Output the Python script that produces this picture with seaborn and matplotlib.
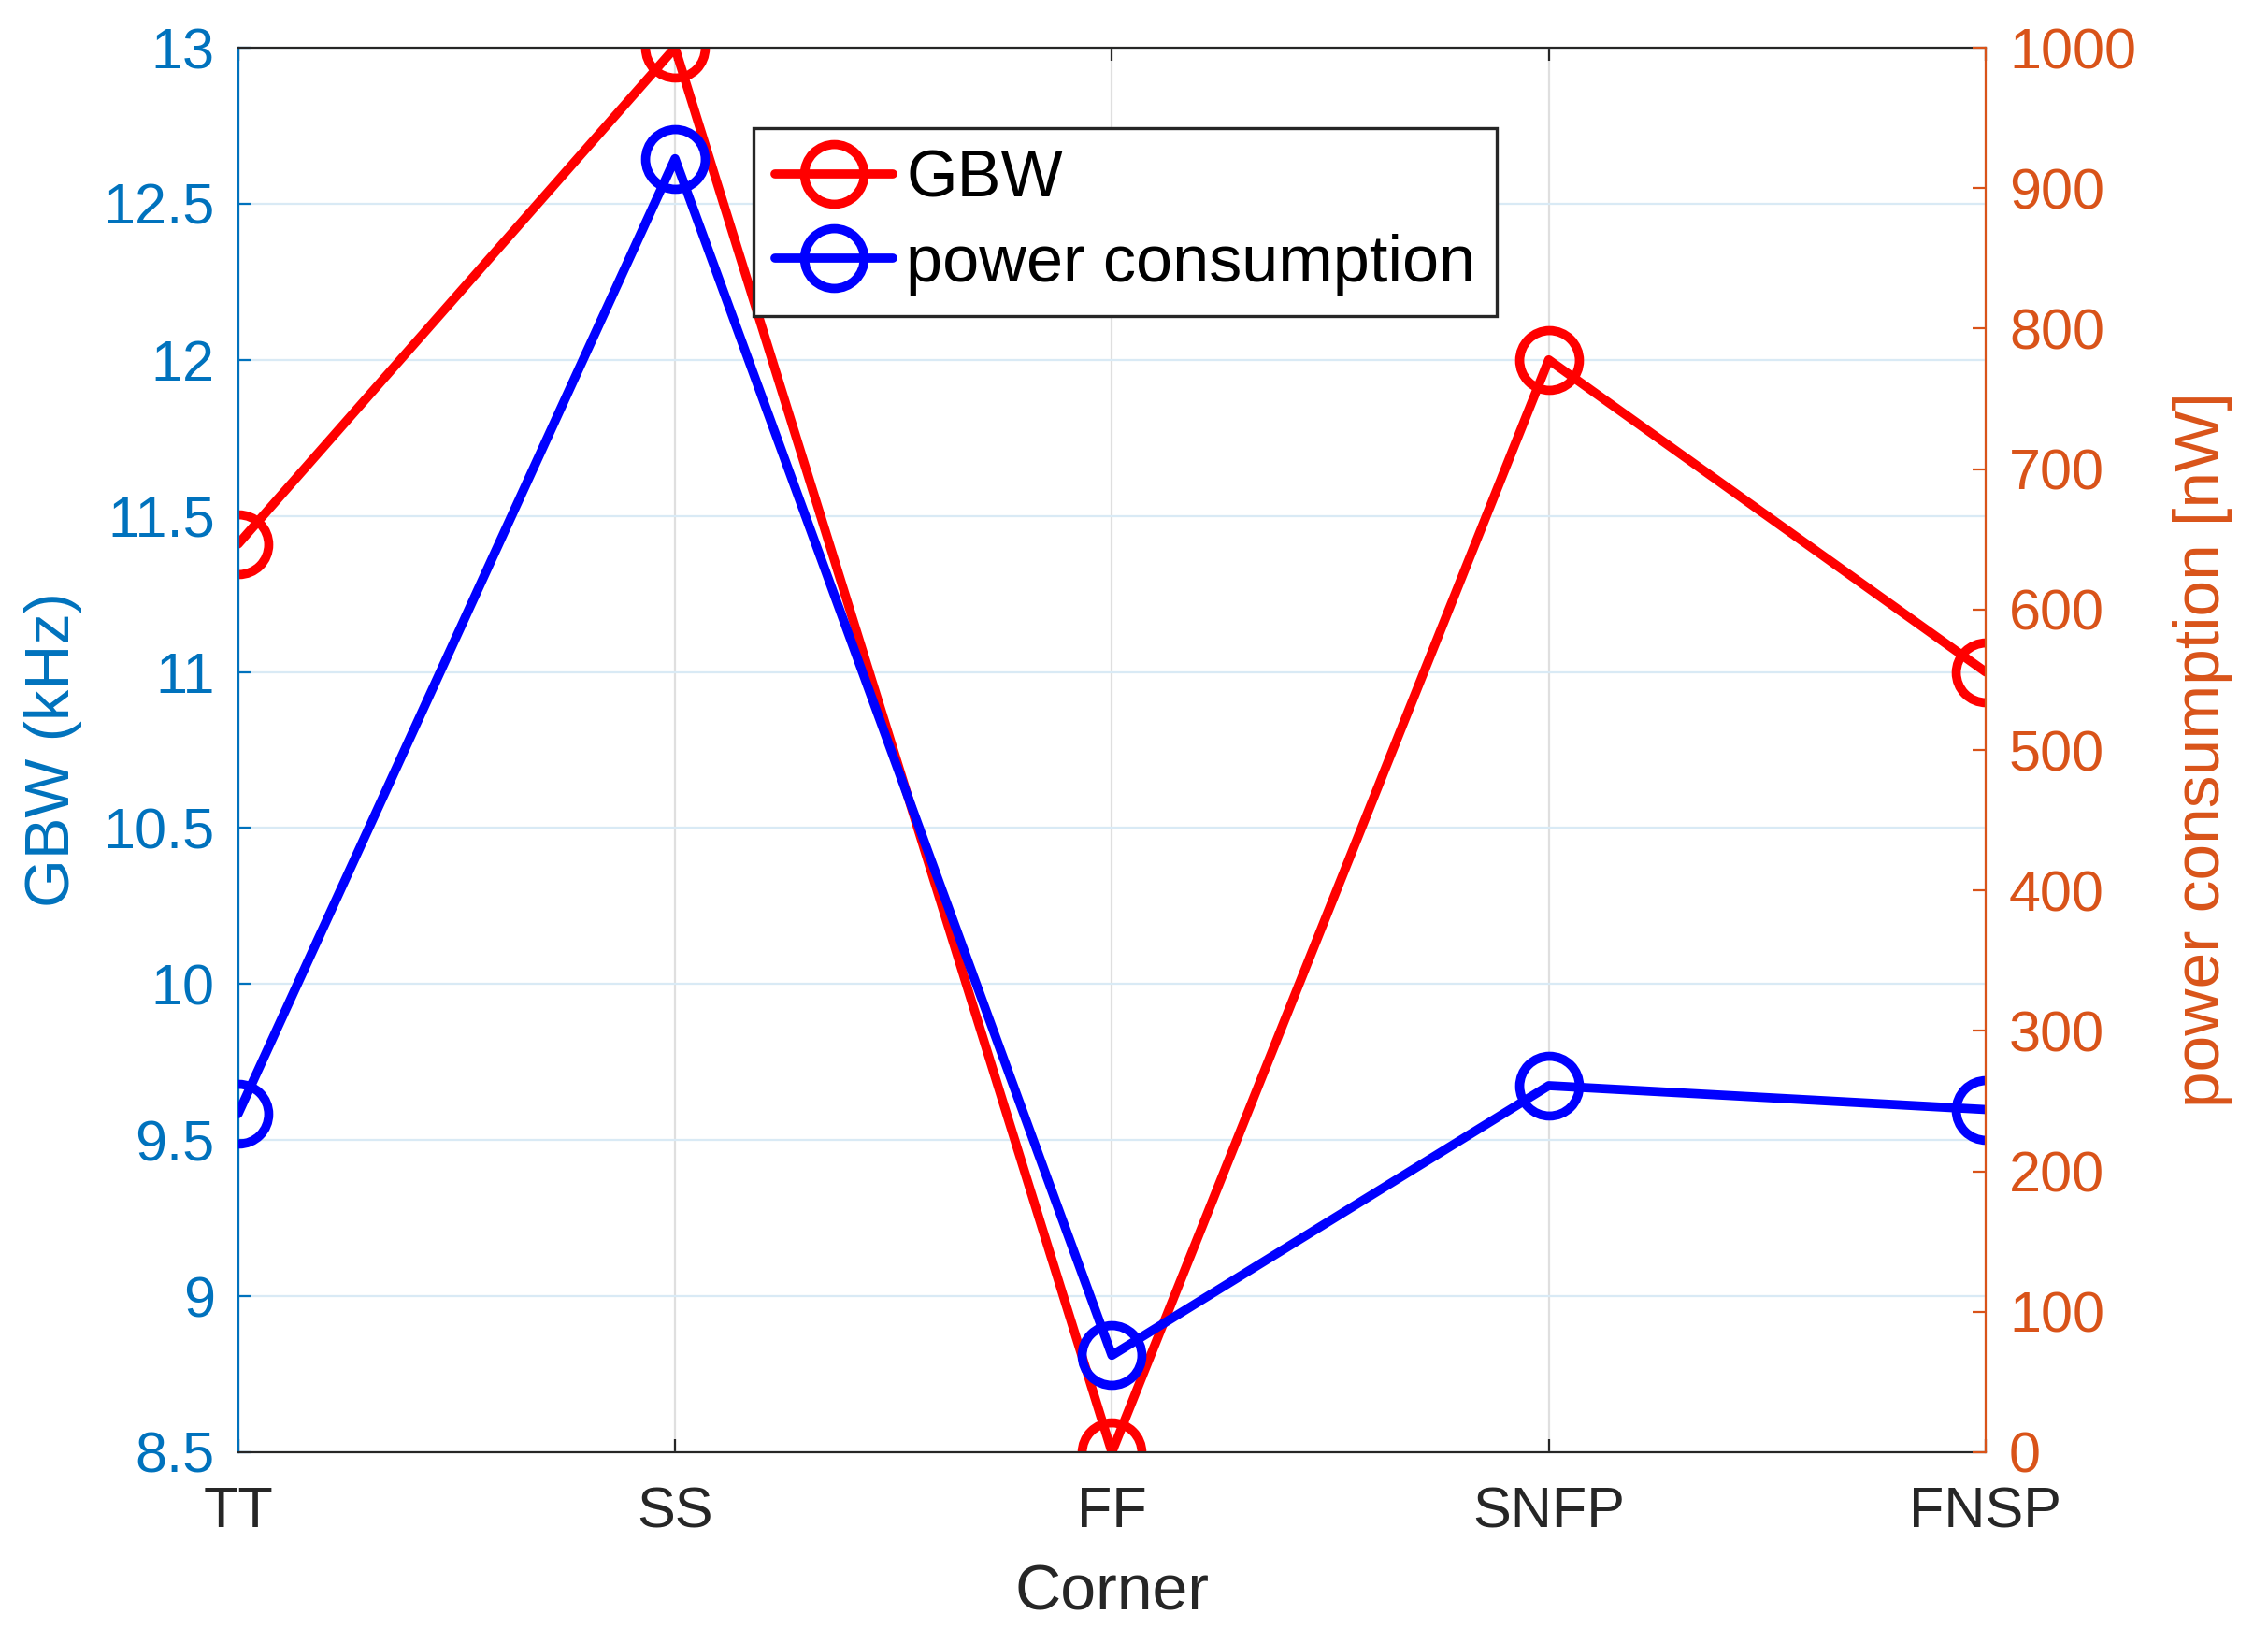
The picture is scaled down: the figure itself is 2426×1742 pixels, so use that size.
import matplotlib
matplotlib.use("Agg")
import matplotlib.pyplot as plt
import seaborn as sns
import pandas as pd

# ---- data ----
corners = ["TT", "SS", "FF", "SNFP", "FNSP"]
gbw_khz = [11.41, 13.0, 8.5, 12.0, 11.0]
power_nw = [241, 921, 69, 261, 244]
left_ticks = [8.5, 9, 9.5, 10, 10.5, 11, 11.5, 12, 12.5, 13]
left_tick_labels = ["8.5", "9", "9.5", "10", "10.5", "11", "11.5", "12", "12.5", "13"]
right_ticks = [0, 100, 200, 300, 400, 500, 600, 700, 800, 900, 1000]

sns.set_style("white")
plt.rcParams['font.family'] = ['Liberation Sans', 'DejaVu Sans']

LEFT_C = "#0072BD"
RIGHT_C = "#D95319"
DARK = "#262626"

df = pd.DataFrame({"idx": list(range(len(corners))), "corner": corners,
                   "gbw": gbw_khz, "power": power_nw})

fig = plt.figure(figsize=(12.13, 8.71), dpi=200)
ax = fig.add_axes([0.105, 0.1085, 0.7705, 0.8622])
ax2 = ax.twinx()

sns.lineplot(data=df, x="idx", y="gbw", ax=ax, color="#FF0000", marker="o",
             markersize=23, markerfacecolor="none", markeredgecolor="#FF0000",
             markeredgewidth=3.5, linewidth=3.5, label="GBW", legend=False)
sns.lineplot(data=df, x="idx", y="power", ax=ax2, color="#0000FF", marker="o",
             markersize=23, markerfacecolor="none", markeredgecolor="#0000FF",
             markeredgewidth=3.5, linewidth=3.5, label="power consumption", legend=False)

ax.set_xlim(0, len(corners) - 1)
ax.set_ylim(8.5, 13)
ax2.set_ylim(0, 1000)

ax.set_xticks(df["idx"])
ax.set_xticklabels(corners)
ax.set_yticks(left_ticks)
ax.set_yticklabels(left_tick_labels)
ax2.set_yticks(right_ticks)

# grid
ax.yaxis.grid(True, color="#D9EAF5", linewidth=0.8)
ax.xaxis.grid(True, color="#DFDFDF", linewidth=0.8)
ax.set_axisbelow(True)

# spines
for s in ["top", "bottom"]:
    ax.spines[s].set_color(DARK)
    ax.spines[s].set_linewidth(0.8)
    ax2.spines[s].set_visible(False)
ax.spines["left"].set_color(LEFT_C)
ax.spines["left"].set_linewidth(0.8)
ax.spines["right"].set_visible(False)
ax2.spines["left"].set_visible(False)
ax2.spines["right"].set_color(RIGHT_C)
ax2.spines["right"].set_linewidth(0.8)

# ticks
ax.xaxis.set_ticks_position("both")
ax.tick_params(axis="x", colors=DARK, direction="in", length=5, width=0.8,
               labelsize=22, pad=13)
ax.tick_params(axis="y", colors=LEFT_C, direction="in", length=5, width=0.8,
               labelsize=22, pad=9, right=False)
ax2.tick_params(axis="y", colors=RIGHT_C, direction="in", length=5, width=0.8,
                labelsize=22, pad=9, left=False)

ax.set_xlabel("Corner", fontsize=24.5, color=DARK, labelpad=9)
ax.set_ylabel("GBW (kHz)", fontsize=24, color=LEFT_C, labelpad=8)
ax2.set_ylabel("power consumption [nW]", fontsize=25, color=RIGHT_C, labelpad=14)

h1, l1 = ax.get_legend_handles_labels()
h2, l2 = ax2.get_legend_handles_labels()
leg = ax2.legend(h1 + h2, l1 + l2, loc="upper left", bbox_to_anchor=(0.295, 0.943),
                 fontsize=25.3, frameon=True, fancybox=False, framealpha=1,
                 edgecolor=DARK, handlelength=1.8, handletextpad=0.2,
                 borderpad=0.32, labelspacing=0.35, borderaxespad=0)
leg.get_frame().set_linewidth(1.2)
for t in leg.get_texts():
    t.set_color("black")

fig.savefig("out.png", dpi=200)
